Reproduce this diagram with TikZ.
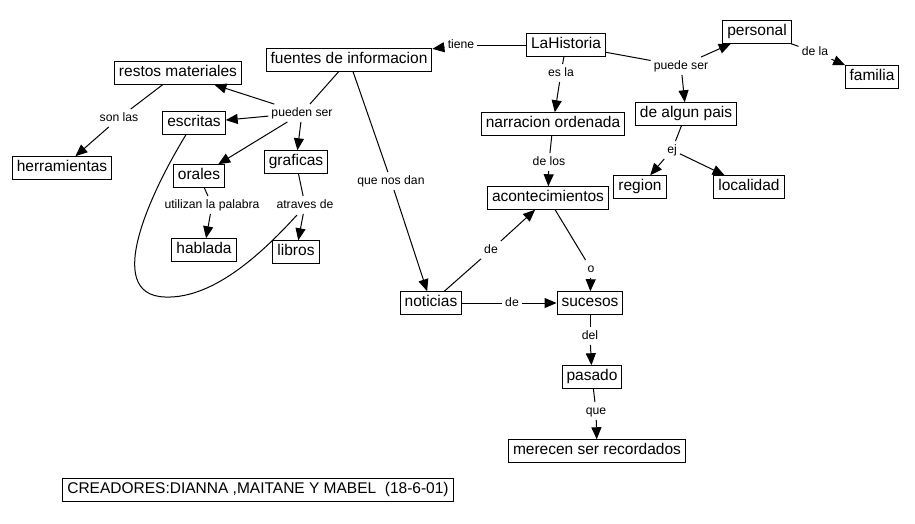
\documentclass[tikz,border=0pt]{standalone}
\usepackage{fontspec}
\setmainfont{Liberation Sans}
\usetikzlibrary{arrows.meta}
\begin{document}
\begin{tikzpicture}[x=1pt,y=-1pt,
  concept/.style={draw, line width=1pt, font=\fontsize{15.5}{18}\selectfont, inner xsep=4.5pt, inner ysep=4pt, text height=11pt, text depth=3.5pt},
  lw/.style={font=\fontsize{12.2}{14}\selectfont, inner sep=3pt, text height=9pt, text depth=2.5pt},
  ln/.style={line width=1pt},
  ar/.style={line width=1pt, -{Triangle[length=12pt,width=10pt]}}]
\useasboundingbox (0,0) rectangle (915,523);
% concepts
\node[concept] (hist) at (566,45) {LaHistoria};
\node[concept] (fuentes) at (349,60) {fuentes de informacion};
\node[concept] (personal) at (757,32) {personal};
\node[concept] (familia) at (872,77) {familia};
\node[concept] (restos) at (178,73) {restos materiales};
\node[concept] (escritas) at (194,123) {escritas};
\node[concept] (herr) at (62,168) {herramientas};
\node[concept] (orales) at (199,176) {orales};
\node[concept] (graficas) at (296,162) {graficas};
\node[concept] (hablada) at (204,250) {hablada};
\node[concept] (libros) at (296,252) {libros};
\node[concept] (narr) at (553,124) {narracion ordenada};
\node[concept] (pais) at (686,114) {de algun pais};
\node[concept] (region) at (640,187) {region};
\node[concept] (local) at (749,187) {localidad};
\node[concept] (acont) at (548,198) {acontecimientos};
\node[concept] (noticias) at (431,303) {noticias};
\node[concept] (sucesos) at (590,303) {sucesos};
\node[concept] (pasado) at (592,377) {pasado};
\node[concept] (merecen) at (597,451) {merecen ser recordados};
\node[concept] (creadores) at (258,490) {CREADORES:DIANNA ,MAITANE Y MABEL\ \ (18-6-01)};
% linking words
\node[lw] (tiene) at (461,45) {tiene};
\node[lw] (esla) at (561,73) {es la};
\node[lw] (puedeser) at (681,66) {puede ser};
\node[lw] (dela) at (815,52) {de la};
\node[lw] (puedenser) at (302,113) {pueden ser};
\node[lw] (sonlas) at (119,118) {son las};
\node[lw] (quenos) at (391,181) {que nos dan};
\node[lw] (utilizan) at (212,205) {utilizan la palabra};
\node[lw] (atraves) at (305,205) {atraves de};
\node[lw] (delos) at (549,162) {de los};
\node[lw] (ej) at (672,150) {ej};
\node[lw] (deA) at (491,250) {de};
\node[lw] (deB) at (512,303) {de};
\node[lw] (o) at (591,269) {o};
\node[lw] (del) at (590,336) {del};
\node[lw] (que) at (596,411) {que};
\coordinate (curveend) at (297,215);
% connections
\draw[ln] (hist) -- (tiene); \draw[ar] (tiene) -- (fuentes);
\draw[ln] (hist) -- (esla); \draw[ar] (esla) -- (narr);
\draw[ln] (hist) -- (puedeser); \draw[ar] (puedeser) -- (personal); \draw[ar] (puedeser) -- (pais);
\draw[ln] (personal) -- (dela); \draw[ar] (dela) -- (familia);
\draw[ln] (fuentes) -- (puedenser);
\draw[ar] (puedenser) -- (restos); \draw[ar] (puedenser) -- (escritas);
\draw[ar] (puedenser) -- (orales); \draw[ar] (puedenser) -- (graficas);
\draw[ln] (fuentes) -- (quenos); \draw[ar] (quenos) -- (noticias);
\draw[ln] (restos) -- (sonlas); \draw[ar] (sonlas) -- (herr);
\draw[ln] (orales) -- (utilizan); \draw[ar] (utilizan) -- (hablada);
\draw[ln] (graficas) -- (atraves); \draw[ar] (atraves) -- (libros);
\draw[ln] (escritas.south) ++(-8,0) .. controls (155,185) and (100,295) .. (165,297)
   .. controls (215,299) and (265,250) .. (curveend);
\draw[ln] (narr) -- (delos); \draw[ar] (delos) -- (acont);
\draw[ln] (pais) -- (ej); \draw[ar] (ej) -- (region); \draw[ar] (ej) -- (local);
\draw[ln] (noticias) -- (deA); \draw[ar] (deA) -- (acont);
\draw[ln] (noticias) -- (deB); \draw[ar] (deB) -- (sucesos);
\draw[ln] (acont) -- (o); \draw[ar] (o) -- (sucesos);
\draw[ln] (sucesos) -- (del); \draw[ar] (del) -- (pasado);
\draw[ln] (pasado) -- (que); \draw[ar] (que) -- (merecen);
\end{tikzpicture}
\end{document}
